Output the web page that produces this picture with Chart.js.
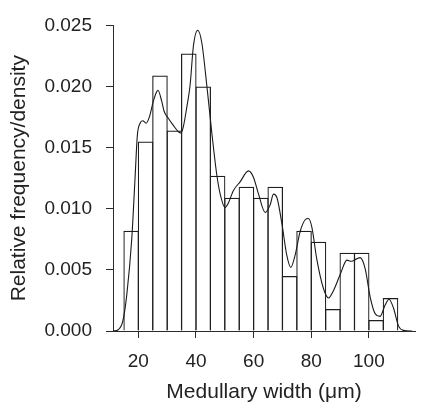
<!DOCTYPE html>
<html>
<head>
<meta charset="utf-8">
<script src="https://cdn.jsdelivr.net/npm/chart.js@4"></script>
<style>
  html, body { margin: 0; padding: 0; background: #fff; }
  canvas { display: block; }
</style>
</head>
<body>
<canvas id="myChart" width="421" height="408"></canvas>
<script>
// histogram: 5 um bins, left edges 15 .. 105
var binStarts = [15, 20, 25, 30, 35, 40, 45, 50, 55, 60, 65, 70, 75, 80, 85, 90, 95, 100, 105];
var binDensity = [0.0082, 0.0155, 0.0209, 0.0164, 0.0227, 0.0200, 0.0127, 0.0109, 0.0118, 0.0109,
                  0.0118, 0.0045, 0.0082, 0.0073, 0.0018, 0.0064, 0.0064, 0.0009, 0.0027];
var binWidth = 5;

// kernel density estimate
var kdeX = [11.3, 13.0, 14.6, 16.0, 17.7, 18.85, 19.65, 20.6, 21.5, 22.7, 23.8, 25.2, 26.4, 26.8, 28.1,
            28.9, 30.4, 32.2, 33.9, 34.8, 35.6, 36.8, 37.95, 39.1, 40.6, 42.0, 43.75, 45.5, 47.2, 48.4,
            50.1, 51.1, 53.0, 55.3, 58.2, 59.9, 61.7, 64.0, 65.7, 66.9, 68.1, 69.8, 71.5, 72.9, 74.4,
            76.1, 77.9, 79.0, 80.2, 81.9, 84.2, 86.0, 87.7, 90.0, 92.4, 93.9, 95.7, 97.0, 98.7, 100.5,
            102.2, 103.9, 105.6, 107.0, 108.5, 110.3, 112.0, 115.0];
var kdeY = [0, 0.0001, 0.0008, 0.0030, 0.0075, 0.0125, 0.0160, 0.0170, 0.0172, 0.0170, 0.0175, 0.0188, 0.0196, 0.0197, 0.0188,
            0.0180, 0.0174, 0.0168, 0.0163, 0.0162, 0.0167, 0.0183, 0.0201, 0.0233, 0.0246, 0.0236, 0.0201, 0.0162, 0.0128, 0.0112,
            0.0101, 0.0104, 0.0115, 0.0122, 0.0131, 0.0126, 0.0112, 0.0097, 0.0103, 0.0112, 0.0109, 0.0088, 0.0062, 0.0052, 0.0062,
            0.0081, 0.0091, 0.0092, 0.0085, 0.0059, 0.0035, 0.0027, 0.0033, 0.0046, 0.0058, 0.0057, 0.0059, 0.0060, 0.0051, 0.0027,
            0.0014, 0.0012, 0.0021, 0.0026, 0.0019, 0.0004, 0.00005, 0];

var xTicks = [20, 40, 60, 80, 100];
var yTicks = [0, 0.005, 0.010, 0.015, 0.020, 0.025];

var ink = '#2a2a2a';
var tickFont = { family: "'Liberation Sans', Arial, Helvetica, sans-serif", size: 19 };
var titleFont = { family: "'Liberation Sans', Arial, Helvetica, sans-serif", size: 21 };

var bars = binStarts.map(function(s, i) {
    return { x: s + binWidth / 2, y: binDensity[i] };
});
var curve = kdeX.map(function(x, i) {
    return { x: x, y: kdeY[i] };
});

var ctx = document.getElementById('myChart').getContext('2d');
var myChart = new Chart(ctx, {
    type: 'bar',
    data: {
        datasets: [{
            type: 'bar',
            data: bars,
            backgroundColor: 'rgba(255,255,255,0)',
            borderColor: '#1e1e1e',
            borderWidth: 1.2,
            borderSkipped: 'start',
            inflateAmount: 0,
            categoryPercentage: 1,
            barPercentage: 1.08, // widen a hair so neighbouring edges overlap into one line
            order: 2
        }, {
            type: 'line',
            data: curve,
            borderColor: '#1a1a1a',
            borderWidth: 1.1,
            pointRadius: 0,
            fill: false,
            cubicInterpolationMode: 'monotone',
            order: 1
        }]
    },
    options: {
        responsive: false,
        animation: false,
        layout: { padding: { top: 15, right: 6, left: 0, bottom: 0 } },
        plugins: {
            legend: { display: false },
            tooltip: { enabled: false }
        },
        scales: {
            x: {
                type: 'linear',
                min: 11.2,
                max: 116,
                offset: false,
                afterBuildTicks: function(scale) {
                    scale.ticks = xTicks.map(function(v) { return { value: v }; });
                },
                afterFit: function(scale) { scale.height = 77; },
                grid: { display: true, offset: false, drawOnChartArea: false, drawTicks: true, tickLength: 7, color: ink },
                border: { display: true, color: ink },
                ticks: { font: tickFont, color: '#222', padding: 12, maxRotation: 0, autoSkip: false },
                title: {
                    display: true,
                    text: 'Medullary width (\u03bcm)',
                    font: titleFont,
                    color: '#222',
                    padding: { top: 0, bottom: 3 }
                }
            },
            y: {
                min: 0,
                max: 0.025,
                afterBuildTicks: function(scale) {
                    scale.ticks = yTicks.map(function(v) { return { value: v }; });
                },
                afterFit: function(scale) { scale.width = 113; },
                grid: { display: true, drawOnChartArea: false, drawTicks: true, tickLength: 7, color: ink },
                border: { display: true, color: ink },
                ticks: {
                    font: tickFont,
                    color: '#222',
                    padding: 14,
                    callback: function(value) { return value.toFixed(3); }
                },
                title: {
                    display: true,
                    text: 'Relative frequency/density',
                    font: titleFont,
                    color: '#222',
                    padding: { top: 7, bottom: 0 }
                }
            }
        }
    }
});
</script>
</body>
</html>
